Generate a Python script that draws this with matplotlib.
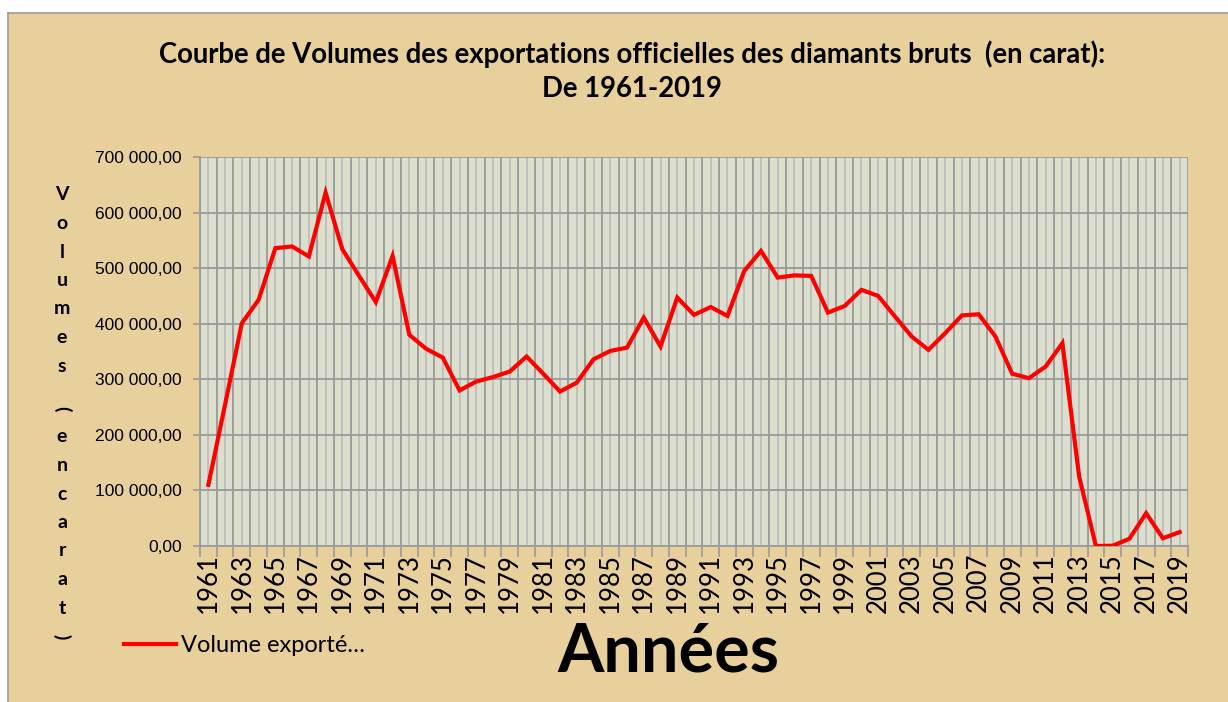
import numpy as np
import matplotlib
matplotlib.use("Agg")
import matplotlib.pyplot as plt
from matplotlib.patches import Rectangle

# Data (carats exported per year)
years = list(range(1961, 2020))
volumes = [
    110000, 255000, 401000, 443000, 536000, 539000, 521000, 636000, 534000, 486000,
    439000, 522000, 380000, 355000, 339000, 280000, 296000, 304000, 314000, 341000,
    310000, 278000, 294000, 336000, 351000, 357000, 411000, 359000, 447000, 416000,
    430000, 414000, 495000, 531000, 483000, 487000, 486000, 420000, 432000, 461000,
    450000, 413000, 377000, 353000, 383000, 415000, 417000, 377000, 310000, 302000,
    323000, 365000, 125000, 0, 500, 13000, 59000, 14000, 25000,
]
y_ticks = [0, 100000, 200000, 300000, 400000, 500000, 600000, 700000]
y_tick_labels = ["0,00", "100 000,00", "200 000,00", "300 000,00",
                 "400 000,00", "500 000,00", "600 000,00", "700 000,00"]
series_name = "Volume exporté…"
title = "Courbe de Volumes des exportations officielles des diamants bruts  (en carat):\nDe 1961-2019"
ylabel_chars = list("Volumes (encarat)")

tan = "#E8D09D"
plot_bg = "#DDDFCE"

fig = plt.figure(figsize=(12.28, 7.02), dpi=100)
fig.patch.set_facecolor("white")
# tan chart area with a gray border on top and left
fig.patches.append(Rectangle((8 / 1228, 0), 1.0, 1 - 13 / 702, transform=fig.transFigure,
                             facecolor=tan, edgecolor="none", zorder=-10))
fig.lines.append(plt.Line2D([8 / 1228, 8 / 1228], [0, 1 - 13 / 702], transform=fig.transFigure,
                            color="#9a9a9a", lw=1.2, zorder=-5))
fig.lines.append(plt.Line2D([8 / 1228, 1], [1 - 13 / 702, 1 - 13 / 702], transform=fig.transFigure,
                            color="#9a9a9a", lw=1.2, zorder=-5))

ax = fig.add_axes([200 / 1228, 1 - 546 / 702, 988 / 1228, 389 / 702])
ax.set_zorder(1)
ax.set_facecolor(plot_bg)

ax.plot(years, volumes, color="#FF0000", lw=3.0, label=series_name, zorder=3,
        solid_joinstyle="miter")

ax.set_xlim(years[0] - 0.5, years[-1] + 0.5)
ax.set_ylim(0, 700000)

# category boundaries -> major ticks / dark grid, category centres -> minor grid + labels
ax.set_xticks(np.arange(years[0] - 0.5, years[-1] + 1.0, 1.0))
ax.set_xticklabels([])
ax.set_xticks(years, minor=True)
ax.set_xticklabels([str(y) if (y - years[0]) % 2 == 0 else "" for y in years], minor=True,
                   rotation=90, fontsize=18.5, family="Lato")
ax.tick_params(axis="x", which="major", length=8, width=1.2, color="#9a9a9a", direction="out")
ax.tick_params(axis="x", which="minor", length=0, pad=5)

ax.set_yticks(y_ticks)
ax.set_yticklabels(y_tick_labels, fontsize=12.5, family="Liberation Sans")
ax.tick_params(axis="y", length=5, width=1.2, color="#9a9a9a", pad=8)

ax.grid(True, which="major", color="#999999", lw=1.3, zorder=1)
ax.grid(True, which="minor", axis="x", color="#BDBDBD", lw=1.3, zorder=1)
ax.set_axisbelow(True)
for side in ["top", "right"]:
    ax.spines[side].set_visible(False)
for side in ["left", "bottom"]:
    ax.spines[side].set_color("#9a9a9a")
    ax.spines[side].set_linewidth(1.3)

fig.text(0.5147, 1 - 71 / 702, title, ha="center", va="center", fontsize=19.8,
         fontweight="bold", family="Lato", linespacing=1.4)

# stacked vertical axis title
y_top, step = 195, 28.5
pos = y_top
for ch in ylabel_chars:
    if ch == " ":
        pos += 14
        continue
    rot = 270 if ch in "()" else 0
    fig.text(62 / 1228, 1 - pos / 702, ch, ha="center", va="center", fontsize=14,
             fontweight="bold", family="Lato", rotation=rot)
    pos += step

fig.text(668 / 1228, 1 - 652 / 702, "Années", ha="center", va="center", fontsize=48,
         fontweight="bold", family="Lato")

ax.legend(loc="center left", bbox_to_anchor=(103 / 1228, 1 - 646 / 702),
          bbox_transform=fig.transFigure, frameon=False,
          prop={"family": "Lato", "size": 17}, handlelength=2.2, handletextpad=0.2)

fig.savefig("out.png", dpi=100, facecolor=fig.get_facecolor())
